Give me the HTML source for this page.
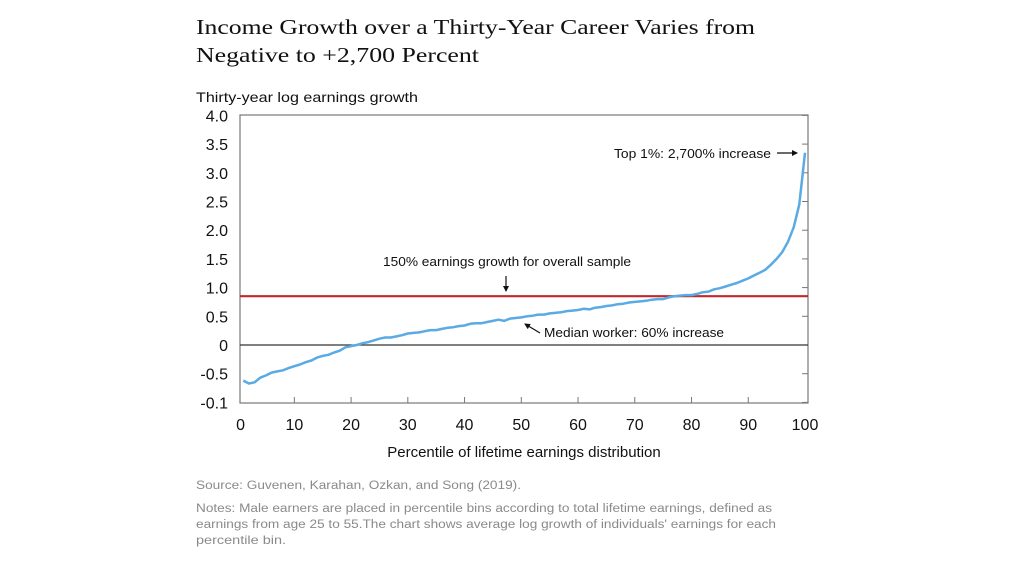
<!DOCTYPE html>
<html><head><meta charset="utf-8"><style>
html,body{margin:0;padding:0;background:#fff;}
svg{display:block;}
text{font-family:"Liberation Sans",Arial,sans-serif;}
</style></head><body>
<svg id="chart" width="1019" height="568" viewBox="0 0 1019 568" xmlns="http://www.w3.org/2000/svg">
<text x="196" y="34" style="font-family:'Liberation Serif',serif" font-size="21" fill="#111" textLength="559" lengthAdjust="spacingAndGlyphs">Income Growth over a Thirty-Year Career Varies from</text>
<text x="196" y="62" style="font-family:'Liberation Serif',serif" font-size="21" fill="#111" textLength="283" lengthAdjust="spacingAndGlyphs">Negative to +2,700 Percent</text>
<text x="196" y="102" font-size="14" fill="#111" textLength="222" lengthAdjust="spacingAndGlyphs">Thirty-year log earnings growth</text>
<g id="axes"></g>
<g id="marks"></g>
<text x="524" y="457" font-size="15" fill="#111" text-anchor="middle">Percentile of lifetime earnings distribution</text>
<text x="196" y="489" font-size="11.5" fill="#8a8a8a" textLength="325" lengthAdjust="spacingAndGlyphs">Source: Guvenen, Karahan, Ozkan, and Song (2019).</text>
<text x="196" y="512" font-size="11.5" fill="#8a8a8a" textLength="576" lengthAdjust="spacingAndGlyphs">Notes: Male earners are placed in percentile bins according to total lifetime earnings, defined as</text>
<text x="196" y="528" font-size="11.5" fill="#8a8a8a" textLength="580" lengthAdjust="spacingAndGlyphs">earnings from age 25 to 55.The chart shows average log growth of individuals' earnings for each</text>
<text x="196" y="544" font-size="12" fill="#8a8a8a" textLength="90" lengthAdjust="spacingAndGlyphs">percentile bin.</text>
</svg>
<script>
const percentiles=[1,2,3,4,5,6,7,8,9,10,11,12,13,14,15,16,17,18,19,20,21,22,23,24,25,26,27,28,29,30,31,32,33,34,35,36,37,38,39,40,41,42,43,44,45,46,47,48,49,50,51,52,53,54,55,56,57,58,59,60,61,62,63,64,65,66,67,68,69,70,71,72,73,74,75,76,77,78,79,80,81,82,83,84,85,86,87,88,89,90,91,92,93,94,95,96,97,98,99,100];
const growth=[-0.62,-0.67,-0.65,-0.57,-0.53,-0.48,-0.46,-0.44,-0.40,-0.37,-0.34,-0.30,-0.27,-0.22,-0.19,-0.17,-0.13,-0.10,-0.04,-0.02,0.0,0.03,0.05,0.08,0.11,0.13,0.13,0.15,0.17,0.20,0.21,0.22,0.24,0.26,0.26,0.28,0.30,0.31,0.33,0.34,0.37,0.38,0.38,0.40,0.42,0.44,0.42,0.46,0.47,0.48,0.50,0.51,0.53,0.53,0.55,0.56,0.57,0.59,0.60,0.61,0.63,0.62,0.65,0.66,0.68,0.69,0.71,0.72,0.74,0.75,0.76,0.77,0.79,0.80,0.80,0.83,0.85,0.86,0.87,0.87,0.89,0.92,0.93,0.97,0.99,1.02,1.05,1.08,1.12,1.16,1.21,1.26,1.31,1.40,1.50,1.62,1.80,2.05,2.45,3.35];
const overallGrowth=[0.85];
const yTicks=[4.0,3.5,3.0,2.5,2.0,1.5,1.0,0.5,0,-0.5,-1.0];
const yTickLabels=["4.0","3.5","3.0","2.5","2.0","1.5","1.0","0.5","0","-0.5","-0.1"];
const xTicks=[0,10,20,30,40,50,60,70,80,90,100];
const xTickLabels=["0","10","20","30","40","50","60","70","80","90","100"];

const NS="http://www.w3.org/2000/svg";
const X=v=>237.6+(v/100)*(805-237.6);
const Y=v=>345-v*57.4;
function mk(tag,attrs,parent){const e=document.createElementNS(NS,tag);for(const k in attrs)e.setAttribute(k,attrs[k]);parent.appendChild(e);return e;}
const axes=document.getElementById('axes'), marks=document.getElementById('marks');
let r=mk('rect',{x:240,y:115,width:568,height:288,fill:'none',stroke:'#777','stroke-width':1.2},axes);


yTicks.forEach((v,i)=>{
  const t=mk('text',{x:228,y:Y(v)+6,'font-size':16,fill:'#111','text-anchor':'end'},axes);
  t.textContent=yTickLabels[i];
  
  
  const l=mk('line',{x1:802,x2:808,y1:Y(v),y2:Y(v),stroke:'#777'},axes);
  
  
});
xTicks.forEach((v,i)=>{
  const t=mk('text',{x:X(v)+(v===0?3:0),y:430,'font-size':16,fill:'#111','text-anchor':'middle'},axes);
  t.textContent=xTickLabels[i];
  
  
  if(v>0&&v<100){const l=mk('line',{x1:X(v),x2:X(v),y1:397,y2:403,stroke:'#777'},axes);
  
  }
});
const zl=mk('line',{x1:240,x2:808,y1:Y(0),y2:Y(0),stroke:'#333','stroke-width':1.2},marks);


const rl=mk('line',{x1:240,x2:808,y1:Y(overallGrowth[0]),y2:Y(overallGrowth[0]),stroke:'#c0282d','stroke-width':2.2},marks);


const d=percentiles.map((p,i)=>(i?'L':'M')+X(p).toFixed(1)+','+Y(growth[i]).toFixed(1)).join(' ');
const pl=mk('path',{d:d,fill:'none',stroke:'#5aaae3','stroke-width':2.5,'stroke-linejoin':'round'},marks);


function label(x,y,txt,name,len){const t=mk('text',{x:x,y:y,'font-size':13,fill:'#111',textLength:len,lengthAdjust:'spacingAndGlyphs'},marks);t.textContent=txt;return t;}
label(383,266,'150% earnings growth for overall sample','overall-sample-annotation',248);
label(544,337,'Median worker: 60% increase','median-annotation',180);
label(614,158,'Top 1%: 2,700% increase','top1-annotation',157);
const defs=mk('defs',{},document.getElementById('chart'));
const m=mk('marker',{id:'ah',markerWidth:6,markerHeight:6,refX:5,refY:3,orient:'auto',markerUnits:'userSpaceOnUse'},defs);
mk('path',{d:'M0,0 L6,3 L0,6 Z',fill:'#111'},m);
[[506,276,506,291,'overall-arrow'],[540,333,525,324,'median-arrow'],[777,153,797,153,'top1-arrow']].forEach(a=>{
  const l=mk('line',{x1:a[0],y1:a[1],x2:a[2],y2:a[3],stroke:'#111','stroke-width':1.2,'marker-end':'url(#ah)'},marks);
  
  
});
</script>
</body></html>
